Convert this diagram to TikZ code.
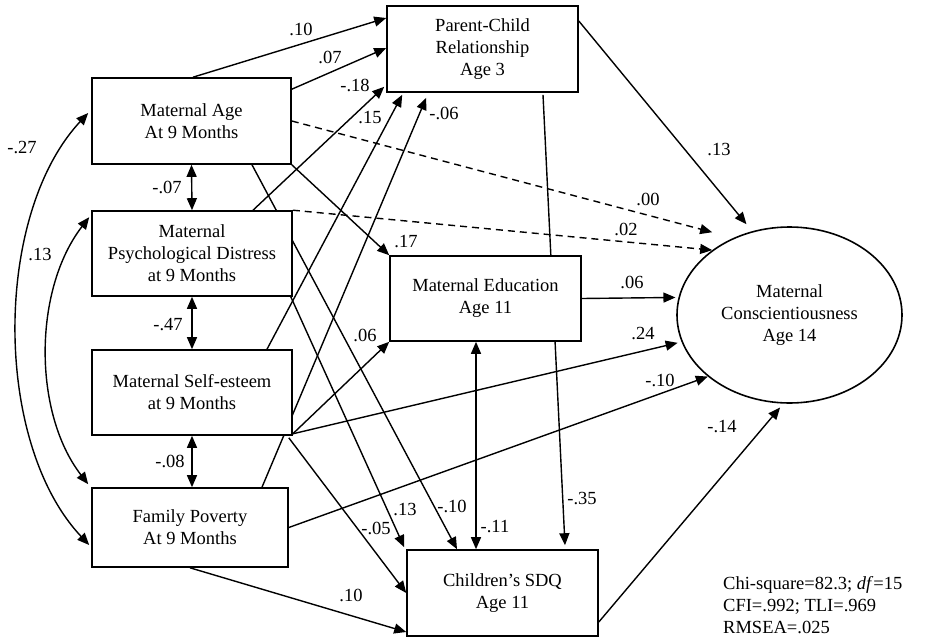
\documentclass[tikz,border=0pt]{standalone}
\usepackage{fontspec}
\setmainfont{Liberation Serif}
\usetikzlibrary{arrows.meta,shapes.geometric,backgrounds}
\newcommand\diagfs{\fontsize{18.5}{22}\selectfont}
\tikzset{
  box/.style={draw, line width=1.6pt, fill=white, align=center, font=\diagfs, inner sep=0pt},
  arr/.style={-{Triangle[length=12pt,width=10pt]}, line width=1.4pt},
  darr/.style={{Triangle[length=12pt,width=10pt]}-{Triangle[length=12pt,width=10pt]}, line width=1.4pt},
  dsh/.style={dash pattern=on 7pt off 5pt},
  lbl/.style={font=\diagfs, inner sep=0pt}
}
\begin{document}
\begin{tikzpicture}[x=1pt,y=-1pt]
\useasboundingbox (0,0) rectangle (926,640);
% nodes
\node[box, minimum width=199pt, minimum height=86pt] (MA) at (191.5,121) {Maternal Age\\At 9 Months};
\node[box, minimum width=191pt, minimum height=86pt] (PC) at (482.5,49) {Parent-Child\\Relationship\\Age 3};
\node[box, minimum width=200pt, minimum height=85pt] (MPD) at (192,253.5) {Maternal\\Psychological Distress\\at 9 Months};
\node[box, minimum width=200pt, minimum height=85pt] (MSE) at (192,392.5) {Maternal Self-esteem\\at 9 Months};
\node[box, minimum width=196pt, minimum height=79pt] (FP) at (190,527.5) {Family Poverty\\At 9 Months};
\node[box, minimum width=191pt, minimum height=85pt] (ME) at (485.5,298.5) {Maternal Education\\Age 11};
\node[box, minimum width=191pt, minimum height=86pt] (SDQ) at (502.5,593) {Children’s SDQ\\Age 11};
\node[box, ellipse, minimum width=225pt, minimum height=176pt] (MC) at (789.5,315) {Maternal\\Conscientiousness\\Age 14};
\node[lbl, anchor=west, align=left] (fit) at (723,605) {Chi-square=82.3; \textit{df}=15\\CFI=.992; TLI=.969\\RMSEA=.025};
% edges
\begin{scope}[on background layer]
\fill[white] (0,0) rectangle (926,640);
% to PC
\draw[arr] ([xshift=1.5pt]MA.north) -- ([yshift=31pt]PC.west);
\draw[arr] ([yshift=-12pt]MA.north east) -- ([yshift=1pt]PC.west);
\draw[arr] ([xshift=61pt]MPD.north) -- ([xshift=-2pt,yshift=6pt]PC.south west);
\draw[arr] ([xshift=75pt]MSE.north) -- ([xshift=16pt,yshift=-2pt]PC.south west);
\draw[arr] ([xshift=72pt]FP.north) -- ([xshift=40pt,yshift=-5pt]PC.south west);
% to ME
\draw[arr] (MA.south east) -- (ME.north west);
\draw[arr] ([yshift=2pt]MSE.south east) -- (ME.south west);
% to SDQ
\draw[arr] ([xshift=60.5pt]MA.south) -- ([xshift=-45.5pt]SDQ.north);
\draw[arr] ([xshift=-2pt]MPD.south east) -- ([xshift=-2pt,yshift=2pt]SDQ.north west);
\draw[arr] ([xshift=-4pt,yshift=-2pt]MSE.south east) -- (SDQ.west);
\draw[arr] (FP.south) -- ([yshift=-39pt]SDQ.west);
\draw[arr] ([xshift=60.5pt,yshift=-2pt]PC.south) -- ([xshift=62.5pt,yshift=4pt]SDQ.north);
\draw[darr] ([xshift=-9.5pt]ME.south) -- ([xshift=-26.5pt]SDQ.north);
% to MC
\draw[arr,shorten >=9pt] ([yshift=28pt]PC.east) -- (MC.114);
\draw[arr,dsh,shorten >=22pt] (MA.east) -- (MC.126);
\draw[arr,dsh] (MPD.north east) -- (MC.140);
\draw[arr,shorten >=3pt] (ME.east) -- (MC.171);
\draw[arr,shorten >=4pt] ([yshift=2pt]MSE.south east) -- (MC.194);
\draw[arr] (FP.east) -- (MC.217);
\draw[arr,shorten >=5pt] ([yshift=-29pt]SDQ.east) -- (MC.266);
% covariances
\draw[darr] (MA.south) -- (MPD.north);
\draw[darr] (MPD.south) -- (MSE.north);
\draw[darr] (MSE.south) -- (MSE.south |- FP.north);
\draw[darr] ([xshift=-3pt,yshift=8pt]MA.west) .. controls (-7,215) and (-7,443) .. ([xshift=-2pt,yshift=-17.5pt]FP.west);
\draw[darr] ([xshift=-2pt,yshift=-7pt]MPD.north west) .. controls (33,290) and (33,413) .. ([xshift=-3pt,yshift=3pt]FP.north west);
\end{scope}
% labels
\node[lbl] (l1) at (301,29) {.10};
\node[lbl] (l2) at (330,57) {.07};
\node[lbl] (l3) at (355,85) {-.18};
\node[lbl] (l4) at (370,118) {.15};
\node[lbl] (l5) at (444,113) {-.06};
\node[lbl] (l6) at (719,150) {.13};
\node[lbl] (l7) at (648,199) {.00};
\node[lbl] (l8) at (626,229) {.02};
\node[lbl] (l9) at (406,242) {.17};
\node[lbl] (l10) at (632,282) {.06};
\node[lbl] (l11) at (365,335) {.06};
\node[lbl] (l12) at (643,334) {.24};
\node[lbl] (l13) at (660,380) {-.10};
\node[lbl] (l14) at (722,427) {-.14};
\node[lbl] (l15) at (582,498) {-.35};
\node[lbl] (l16) at (405,509) {.13};
\node[lbl] (l17) at (452,506) {-.10};
\node[lbl] (l18) at (495,527) {-.11};
\node[lbl] (l19) at (376,528) {-.05};
\node[lbl] (l20) at (351,595) {.10};
\node[lbl] (l21) at (167,187) {-.07};
\node[lbl] (l22) at (168,325) {-.47};
\node[lbl] (l23) at (170,461) {-.08};
\node[lbl] (l24) at (22,148) {-.27};
\node[lbl] (l25) at (40,255) {.13};
\end{tikzpicture}
\end{document}
